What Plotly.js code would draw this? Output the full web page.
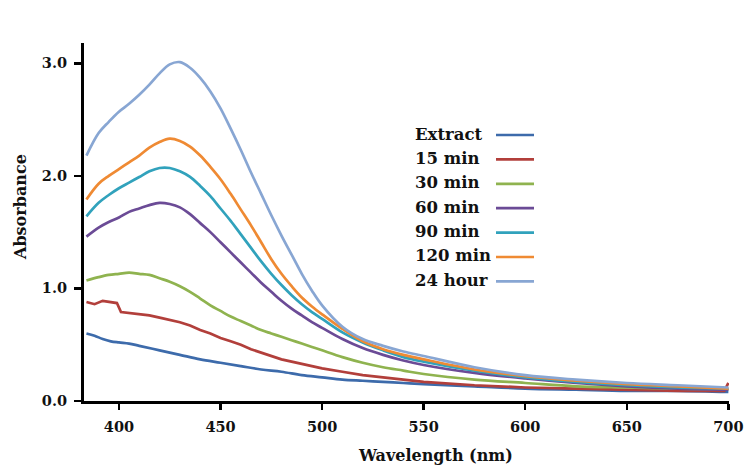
<!DOCTYPE html>
<html>
<head>
<meta charset="utf-8">
<script src="https://cdn.plot.ly/plotly-3.0.1.min.js"></script>
<style>html,body{margin:0;padding:0;background:#fff}#chart{width:745px;height:468px}</style>
</head>
<body>
<div id="chart"></div>
<script>
// ---- data ----
const seriesNames = ["Extract", "15 min", "30 min", "60 min", "90 min", "120 min", "24 hour"];
const seriesColors = ["#3d6bab", "#b23f3b", "#8fb34f", "#6b4b96", "#31a2bc", "#ef8a33", "#88a6d3"];

const wlExtract = [384, 388, 392, 396, 400, 405, 410, 420, 430, 440, 450, 460, 470, 480, 490, 500, 510, 520, 530, 540, 550, 575, 600, 625, 650, 675, 700];
const absExtract = [0.60, 0.58, 0.55, 0.53, 0.52, 0.51, 0.49, 0.45, 0.41, 0.37, 0.34, 0.31, 0.28, 0.26, 0.23, 0.21, 0.19, 0.18, 0.17, 0.16, 0.15, 0.13, 0.11, 0.10, 0.09, 0.09, 0.08];

const wl15 = [384, 388, 392, 396, 399, 401, 405, 410, 415, 420, 425, 430, 435, 440, 445, 450, 455, 460, 465, 470, 475, 480, 490, 500, 510, 520, 530, 540, 550, 575, 600, 625, 650, 675, 698, 700];
const abs15 = [0.88, 0.86, 0.89, 0.88, 0.87, 0.79, 0.78, 0.77, 0.76, 0.74, 0.72, 0.70, 0.67, 0.63, 0.60, 0.56, 0.53, 0.50, 0.46, 0.43, 0.40, 0.37, 0.33, 0.29, 0.26, 0.23, 0.21, 0.19, 0.17, 0.14, 0.12, 0.11, 0.10, 0.09, 0.09, 0.16];

const wlMain = [384, 390, 395, 400, 405, 410, 415, 420, 425, 430, 435, 440, 445, 450, 455, 460, 465, 470, 475, 480, 485, 490, 495, 500, 510, 520, 530, 540, 550, 575, 600, 625, 650, 675, 700];
const abs30 = [1.07, 1.10, 1.12, 1.13, 1.14, 1.13, 1.12, 1.09, 1.06, 1.02, 0.97, 0.91, 0.85, 0.80, 0.75, 0.71, 0.67, 0.63, 0.60, 0.57, 0.54, 0.51, 0.48, 0.45, 0.39, 0.34, 0.30, 0.27, 0.24, 0.19, 0.16, 0.13, 0.12, 0.11, 0.10];
const abs60 = [1.46, 1.54, 1.59, 1.63, 1.68, 1.71, 1.74, 1.76, 1.75, 1.72, 1.66, 1.58, 1.50, 1.41, 1.32, 1.23, 1.14, 1.05, 0.97, 0.89, 0.82, 0.76, 0.70, 0.65, 0.55, 0.47, 0.41, 0.36, 0.32, 0.25, 0.20, 0.16, 0.13, 0.11, 0.10];
const abs90 = [1.64, 1.76, 1.83, 1.89, 1.94, 1.99, 2.04, 2.07, 2.07, 2.04, 1.99, 1.91, 1.82, 1.71, 1.60, 1.48, 1.36, 1.24, 1.13, 1.03, 0.94, 0.86, 0.79, 0.73, 0.61, 0.52, 0.45, 0.39, 0.35, 0.27, 0.21, 0.17, 0.14, 0.12, 0.11];
const abs120 = [1.79, 1.93, 2.00, 2.06, 2.12, 2.18, 2.25, 2.30, 2.33, 2.31, 2.26, 2.18, 2.08, 1.97, 1.84, 1.70, 1.56, 1.41, 1.26, 1.13, 1.02, 0.92, 0.84, 0.77, 0.64, 0.53, 0.46, 0.41, 0.37, 0.28, 0.22, 0.18, 0.15, 0.13, 0.11];
const abs24h = [2.18, 2.38, 2.48, 2.57, 2.64, 2.72, 2.81, 2.91, 2.99, 3.01, 2.96, 2.87, 2.75, 2.60, 2.42, 2.23, 2.03, 1.84, 1.65, 1.47, 1.30, 1.13, 0.98, 0.85, 0.66, 0.55, 0.49, 0.44, 0.40, 0.30, 0.23, 0.19, 0.16, 0.14, 0.12];

const xTickVals = [400, 450, 500, 550, 600, 650, 700];
const yTickVals = [0, 1, 2, 3];
const xTitle = "Wavelength (nm)";
const yTitle = "Absorbance";

const seriesX = [wlExtract, wl15, wlMain, wlMain, wlMain, wlMain, wlMain];
const seriesY = [absExtract, abs15, abs30, abs60, abs90, abs120, abs24h];

// ---- chart ----
const serif = "'DejaVu Serif', 'Liberation Serif', serif";
const traces = seriesNames.map((n, i) => ({
  type: "scatter", mode: "lines", name: n,
  x: seriesX[i], y: seriesY[i],
  line: {color: seriesColors[i], width: 2.7, shape: i === 1 ? "linear" : "spline", smoothing: 1},
  showlegend: false
}));

// plot area in pixels
const L = 84, R = 16, T = 43, B = 67, W = 745, H = 468;
const pw = W - L - R, ph = H - T - B;
const px = v => (v - L) / pw;
const py = v => (H - B - v) / ph;

const txtFont = (s) => ({family: serif, size: s, color: "#111", weight: "bold"});
const annotations = [];
const shapes = [];
const legTop = 134, legStep = 24.4;
seriesNames.forEach((n, i) => {
  const yc = legTop + i * legStep;
  annotations.push({
    xref: "paper", yref: "paper", x: px(413), y: py(yc),
    xanchor: "left", yanchor: "middle", showarrow: false,
    text: n, font: txtFont(16.5)
  });
  shapes.push({
    type: "line", xref: "paper", yref: "paper",
    x0: px(496), x1: px(534), y0: py(yc + 1), y1: py(yc + 1),
    line: {color: seriesColors[i], width: 2.7}
  });
});
// axis titles (placed off-centre as in the reference)
annotations.push({
  xref: "paper", yref: "paper", x: px(435), y: py(455),
  xanchor: "center", yanchor: "middle", showarrow: false,
  text: xTitle, font: txtFont(16)
});
annotations.push({
  xref: "paper", yref: "paper", x: px(20), y: py(207),
  xanchor: "center", yanchor: "middle", showarrow: false, textangle: -90,
  text: yTitle, font: txtFont(16)
});

const layout = {
  width: W, height: H,
  margin: {l: L, r: R, t: T, b: B, pad: 0},
  paper_bgcolor: "#fff", plot_bgcolor: "#fff",
  font: {family: serif, color: "#111"},
  xaxis: {
    range: [382.8, 700.3], tickvals: xTickVals, ticktext: xTickVals.map(String),
    showgrid: false, zeroline: false,
    showline: true, linecolor: "#000", linewidth: 3,
    ticks: "outside", ticklen: 6, tickwidth: 2.5, tickcolor: "#000",
    ticklabelstandoff: 5,
    tickfont: txtFont(14.5)
  },
  yaxis: {
    range: [0, 3.18], tickvals: yTickVals, ticktext: yTickVals.map(v => v.toFixed(1)),
    showgrid: false, zeroline: false,
    showline: true, linecolor: "#000", linewidth: 3,
    ticks: "outside", ticklen: 7, tickwidth: 2.5, tickcolor: "#000",
    ticklabelstandoff: 4,
    tickfont: txtFont(14.5)
  },
  annotations: annotations,
  shapes: shapes
};

Plotly.newPlot("chart", traces, layout, {displayModeBar: false, staticPlot: true});
</script>
</body>
</html>
